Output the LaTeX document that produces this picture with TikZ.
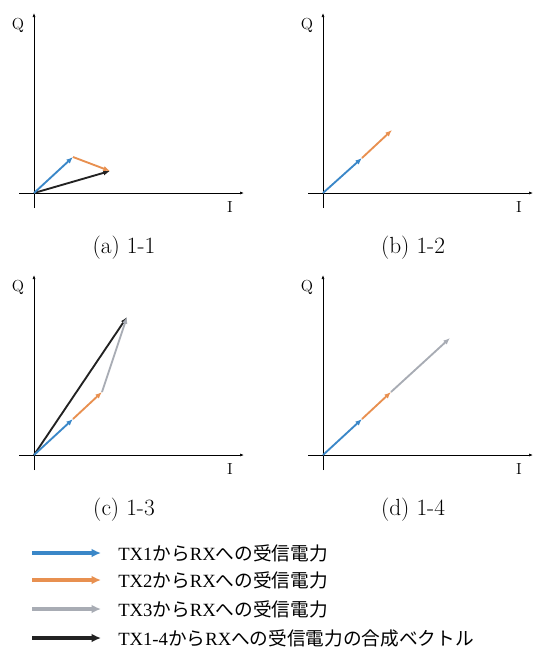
\documentclass[tikz,border=0pt]{standalone}
\usepackage{fontspec}
\usetikzlibrary{arrows.meta}
\newfontfamily\jpfont{Noto Sans CJK JP}
\newfontfamily\romfont{Liberation Serif}
\definecolor{txone}{RGB}{58,135,200}
\definecolor{txtwo}{RGB}{232,144,80}
\definecolor{txthree}{RGB}{168,172,180}
\definecolor{txsum}{RGB}{34,34,34}
% legend text: Latin part, then the fixed Japanese part
\newcommand{\rxlabel}[2]{{\romfont #1}{\jpfont から}{\romfont RX}{\jpfont への受信電力#2}}
% I/Q axes of one panel, #1 = panel tag, #2 = caption
\newcommand{\iqaxes}[2]{%
  \coordinate (yb#1) at (0,15); \coordinate (yt#1) at (0,-180);
  \coordinate (xl#1) at (-15,0); \coordinate (xr#1) at (210,0);
  \draw[axis] (yb#1) -- (yt#1);
  \draw[axis] (xl#1) -- (xr#1);
  \node[axlabel] (q#1) at (-16,-168) {Q};
  \node[axlabel] (i#1) at (196,14) {I};
  \node[caption] (cap#1) at (90,55) {#2};}

\begin{document}
\begin{tikzpicture}[x=0.75pt, y=-0.75pt,
  axis/.style={line width=0.5pt, -{Latex[length=3pt,width=2.2pt]}},
  vec/.style={line width=1.4pt, -{Latex[length=5pt,width=4pt]}},
  legvec/.style={line width=2.6pt, -{Latex[length=7pt,width=6.5pt]}},
  axlabel/.style={font=\fontsize{12}{14}\selectfont},
  caption/.style={font=\fontsize{17.5}{21}\selectfont},
  legtext/.style={anchor=west, inner sep=0pt, font=\fontsize{14}{17}\selectfont}]
\useasboundingbox (0,0) rectangle (534,650);

% (a) 1-1
\begin{scope}[shift={(34,193)}]
\iqaxes{a}{(a) 1-1}
\coordinate (oa) at (0,0);
\coordinate (a1) at (39,-36);
\coordinate (a2) at (76,-22);
\draw[vec,txsum] (oa) -- (a2);
\draw[vec,txone] (oa) -- (a1);
\draw[vec,txtwo] (a1) -- (a2);
\end{scope}

% (b) 1-2
\begin{scope}[shift={(323,193)}]
\iqaxes{b}{(b) 1-2}
\coordinate (ob) at (0,0);
\coordinate (b1) at (39,-35);
\coordinate (b2) at (69,-63);
\draw[vec,txone] (ob) -- (b1);
\draw[vec,txtwo] (b1) -- (b2);
\end{scope}

% (c) 1-3
\begin{scope}[shift={(34,455)}]
\iqaxes{c}{(c) 1-3}
\coordinate (oc) at (0,0);
\coordinate (c1) at (39,-36);
\coordinate (c2) at (68,-63);
\coordinate (c3) at (93,-138);
\draw[vec,txsum] (oc) -- (c3);
\draw[vec,txone] (oc) -- (c1);
\draw[vec,txtwo] (c1) -- (c2);
\draw[vec,txthree] (c2) -- (c3);
\end{scope}

% (d) 1-4
\begin{scope}[shift={(323,455)}]
\iqaxes{d}{(d) 1-4}
\coordinate (od) at (0,0);
\coordinate (d1) at (39,-36);
\coordinate (d2) at (68,-63);
\coordinate (d3) at (127,-117);
\draw[vec,txone] (od) -- (d1);
\draw[vec,txtwo] (d1) -- (d2);
\draw[vec,txthree] (d2) -- (d3);
\end{scope}

% legend
\coordinate (l1s) at (32,553); \coordinate (l1e) at (101,553);
\coordinate (l2s) at (32,580); \coordinate (l2e) at (101,580);
\coordinate (l3s) at (32,609); \coordinate (l3e) at (101,609);
\coordinate (l4s) at (32,638); \coordinate (l4e) at (101,638);
\draw[legvec,txone] (l1s) -- (l1e);
\draw[legvec,txtwo] (l2s) -- (l2e);
\draw[legvec,txthree] (l3s) -- (l3e);
\draw[legvec,txsum] (l4s) -- (l4e);
\node[legtext] (leg1) at (118,553) {\rxlabel{TX1}{}};
\node[legtext] (leg2) at (118,580) {\rxlabel{TX2}{}};
\node[legtext] (leg3) at (118,609) {\rxlabel{TX3}{}};
\node[legtext] (leg4) at (118,638) {\rxlabel{TX1-4}{の合成ベクトル}};
\end{tikzpicture}
\end{document}
